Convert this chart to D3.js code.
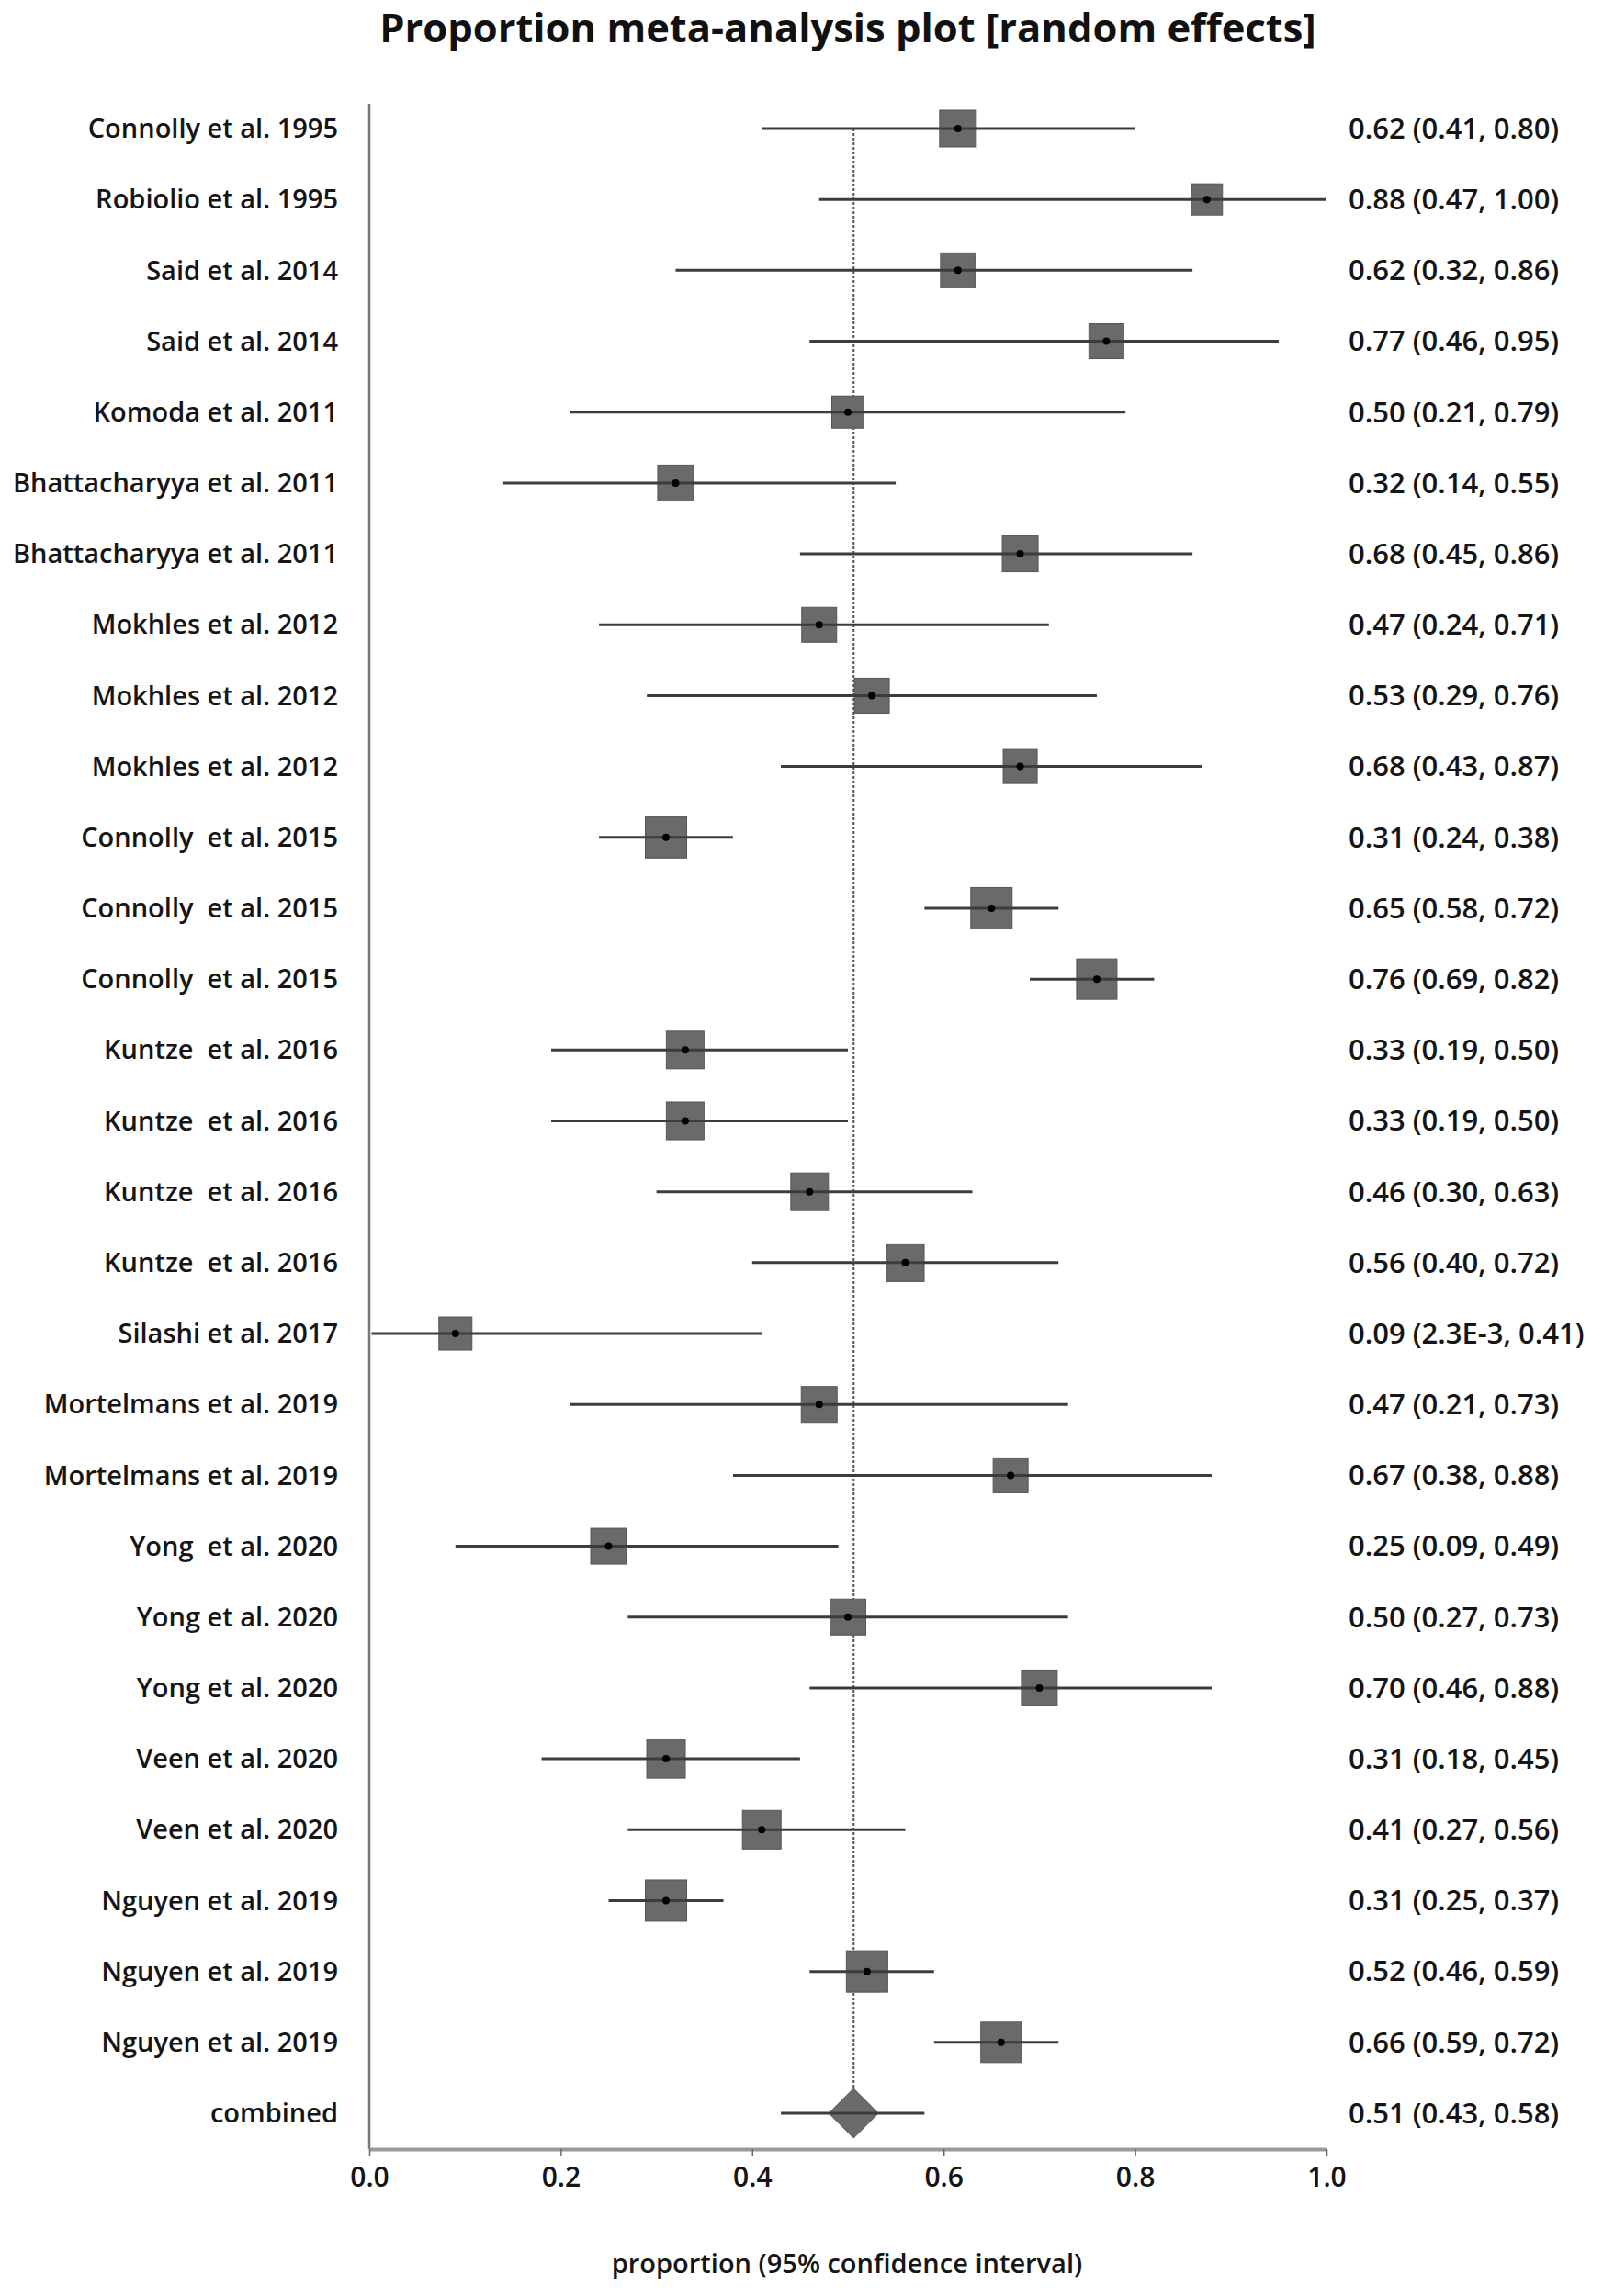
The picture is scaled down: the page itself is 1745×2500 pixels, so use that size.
<!DOCTYPE html>
<html>
<head>
<meta charset="utf-8">
<script src="https://cdn.jsdelivr.net/npm/d3@7"></script>
<style>
  body { margin: 0; background: #fff; }
  text { font-family: "Open Sans", sans-serif; }
</style>
</head>
<body>
<script>
// study labels, top to bottom
const studies = [
  "Connolly et al. 1995", "Robiolio et al. 1995", "Said et al. 2014", "Said et al. 2014",
  "Komoda et al. 2011", "Bhattacharyya et al. 2011", "Bhattacharyya et al. 2011",
  "Mokhles et al. 2012", "Mokhles et al. 2012", "Mokhles et al. 2012",
  "Connolly  et al. 2015", "Connolly  et al. 2015", "Connolly  et al. 2015",
  "Kuntze  et al. 2016", "Kuntze  et al. 2016", "Kuntze  et al. 2016", "Kuntze  et al. 2016",
  "Silashi et al. 2017", "Mortelmans et al. 2019", "Mortelmans et al. 2019",
  "Yong  et al. 2020", "Yong et al. 2020", "Yong et al. 2020",
  "Veen et al. 2020", "Veen et al. 2020",
  "Nguyen et al. 2019", "Nguyen et al. 2019", "Nguyen et al. 2019"
];
const est   = [0.615, 0.875, 0.615, 0.77, 0.50, 0.32, 0.68, 0.47, 0.525, 0.68,
               0.31, 0.65, 0.76, 0.33, 0.33, 0.46, 0.56, 0.09, 0.47, 0.67,
               0.25, 0.50, 0.70, 0.31, 0.41, 0.31, 0.52, 0.66];
const lower = [0.41, 0.47, 0.32, 0.46, 0.21, 0.14, 0.45, 0.24, 0.29, 0.43,
               0.24, 0.58, 0.69, 0.19, 0.19, 0.30, 0.40, 0.0023, 0.21, 0.38,
               0.09, 0.27, 0.46, 0.18, 0.27, 0.25, 0.46, 0.59];
const upper = [0.80, 1.00, 0.86, 0.95, 0.79, 0.55, 0.86, 0.71, 0.76, 0.87,
               0.38, 0.72, 0.82, 0.50, 0.50, 0.63, 0.72, 0.41, 0.73, 0.88,
               0.49, 0.73, 0.88, 0.45, 0.56, 0.37, 0.59, 0.72];
// relative weights (marker size)
const weight = [40, 34, 38, 38, 35, 39, 39, 38, 38, 37,
                45, 45, 44, 41, 41, 41, 41, 36, 39, 38,
                39, 39, 39, 42, 42, 45, 45, 44];
const valueLabels = [
  "0.62 (0.41, 0.80)", "0.88 (0.47, 1.00)", "0.62 (0.32, 0.86)", "0.77 (0.46, 0.95)",
  "0.50 (0.21, 0.79)", "0.32 (0.14, 0.55)", "0.68 (0.45, 0.86)", "0.47 (0.24, 0.71)",
  "0.53 (0.29, 0.76)", "0.68 (0.43, 0.87)", "0.31 (0.24, 0.38)", "0.65 (0.58, 0.72)",
  "0.76 (0.69, 0.82)", "0.33 (0.19, 0.50)", "0.33 (0.19, 0.50)", "0.46 (0.30, 0.63)",
  "0.56 (0.40, 0.72)", "0.09 (2.3E-3, 0.41)", "0.47 (0.21, 0.73)", "0.67 (0.38, 0.88)",
  "0.25 (0.09, 0.49)", "0.50 (0.27, 0.73)", "0.70 (0.46, 0.88)", "0.31 (0.18, 0.45)",
  "0.41 (0.27, 0.56)", "0.31 (0.25, 0.37)", "0.52 (0.46, 0.59)", "0.66 (0.59, 0.72)"
];
// pooled estimate
const combined = {label: "combined", est: 0.506, lower: 0.43, upper: 0.58, text: "0.51 (0.43, 0.58)"};
const xTicks = [0, 0.2, 0.4, 0.6, 0.8, 1.0];

const w = 1745, h = 2500;
const svg = d3.select("body").append("svg").attr("width", w).attr("height", h);

const rows = studies.map((s, i) => ({
  i, label: s, est: est[i], lo: lower[i], hi: upper[i], wt: weight[i], text: valueLabels[i]
}));
const rowKeys = d3.range(rows.length + 1);

const x = d3.scaleLinear().domain([0, 1]).range([402, 1444]);
const y = d3.scalePoint().domain(rowKeys).range([140, 2301]);
const axisY = 2340;
const labelSize = 29, valueSize = 31, txt = "#151515";

// title
svg.append("text")
  .attr("x", 923).attr("y", 46)
  .attr("text-anchor", "middle")
  .attr("font-size", 43.5).attr("font-weight", "bold")
  .attr("fill", "#111")
  .text("Proportion meta-analysis plot [random effects]");

// left axis line
svg.append("line")
  .attr("x1", x(0)).attr("x2", x(0))
  .attr("y1", 113).attr("y2", axisY)
  .attr("stroke", "#777").attr("stroke-width", 2.5);

// dashed reference line at pooled estimate
const dHalf = 27;
svg.append("line")
  .attr("x1", x(combined.est)).attr("x2", x(combined.est))
  .attr("y1", y(0)).attr("y2", y(rows.length) - dHalf)
  .attr("stroke", "#555").attr("stroke-width", 2)
  .attr("stroke-dasharray", "3,2");

// rows
const g = svg.append("g");
const row = g.selectAll("g.row").data(rows).join("g").attr("class", "row");

row.append("rect")
  .attr("x", d => x(d.est) - d.wt / 2)
  .attr("y", d => y(d.i) - d.wt / 2)
  .attr("width", d => d.wt).attr("height", d => d.wt)
  .attr("fill", "#6a6a6a").attr("stroke", "#555").attr("stroke-width", 1);

row.append("line")
  .attr("x1", d => x(d.lo)).attr("x2", d => x(d.hi))
  .attr("y1", d => y(d.i)).attr("y2", d => y(d.i))
  .attr("stroke", "#3c3c3c").attr("stroke-width", 3);

row.append("circle")
  .attr("cx", d => x(d.est)).attr("cy", d => y(d.i))
  .attr("r", 4).attr("fill", "#000");

row.append("text")
  .attr("x", 368).attr("y", d => y(d.i))
  .attr("dy", "0.35em").attr("text-anchor", "end")
  .attr("font-size", labelSize).attr("font-weight", 600).attr("fill", txt)
  .style("white-space", "pre")
  .text(d => d.label);

row.append("text")
  .attr("x", 1468).attr("y", d => y(d.i))
  .attr("dy", "0.35em")
  .attr("font-size", valueSize).attr("font-weight", 600).attr("fill", txt)
  .text(d => d.text);

// combined diamond
const cy = y(rows.length);
const cx = x(combined.est);
svg.append("path")
  .attr("d", `M${cx},${cy - dHalf}L${cx + dHalf},${cy}L${cx},${cy + dHalf}L${cx - dHalf},${cy}Z`)
  .attr("fill", "#6a6a6a").attr("stroke", "#555");
svg.append("line")
  .attr("x1", x(combined.lower)).attr("x2", x(combined.upper))
  .attr("y1", cy).attr("y2", cy)
  .attr("stroke", "#3c3c3c").attr("stroke-width", 3);
svg.append("text")
  .attr("x", 368).attr("y", cy).attr("dy", "0.35em")
  .attr("text-anchor", "end").attr("font-size", labelSize).attr("font-weight", 600).attr("fill", txt)
  .text(combined.label);
svg.append("text")
  .attr("x", 1468).attr("y", cy).attr("dy", "0.35em")
  .attr("font-size", valueSize).attr("font-weight", 600).attr("fill", txt)
  .text(combined.text);

// x axis
const xAxis = svg.append("g")
  .attr("transform", `translate(0,${axisY})`)
  .call(d3.axisBottom(x).tickValues(xTicks).tickFormat(d3.format(".1f")).tickSize(8).tickSizeOuter(0));
xAxis.select("path.domain").attr("stroke", "#999").attr("stroke-width", 4);
xAxis.selectAll("g.tick line").attr("stroke", "#666").attr("stroke-width", 1.5);
xAxis.selectAll("g.tick text")
  .attr("font-size", 30).attr("font-weight", 600).attr("fill", txt).attr("y", 20)
  .style("font-family", "Open Sans, sans-serif");

svg.append("text")
  .attr("x", 922).attr("y", 2475)
  .attr("text-anchor", "middle")
  .attr("font-size", 29).attr("font-weight", 600).attr("fill", txt)
  .text("proportion (95% confidence interval)");
</script>
</body>
</html>
